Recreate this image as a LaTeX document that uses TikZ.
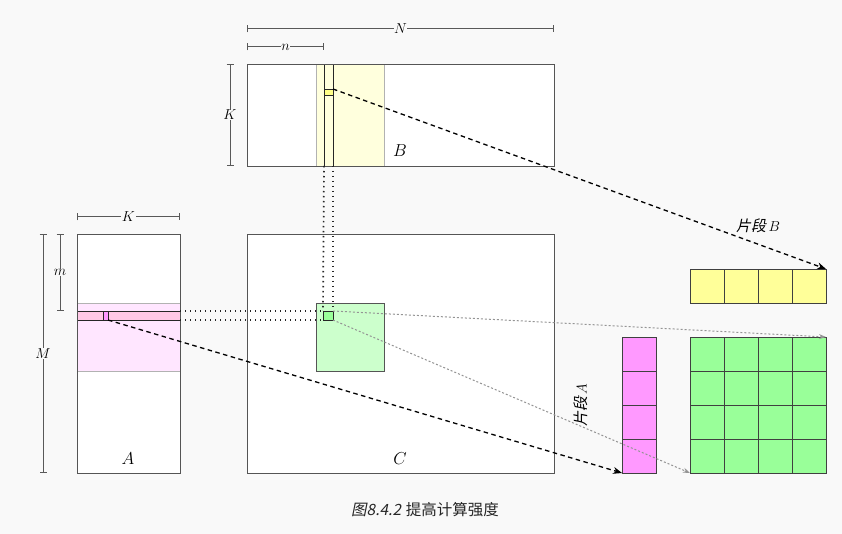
\documentclass[tikz,border=0pt]{standalone}
\usepackage{fontspec}
\newfontfamily\cjk{Noto Sans CJK SC}
\newfontfamily\cjksl[FakeSlant=0.2]{Noto Sans CJK SC}
\usetikzlibrary{arrows.meta}
\definecolor{bgc}{HTML}{F9F9F9}
\definecolor{frame}{HTML}{555555}
\definecolor{yband}{HTML}{FFFFDD}
\definecolor{ycell}{HTML}{FFFF99}
\definecolor{ysq}{HTML}{FFFF88}
\definecolor{pband}{HTML}{FFE6FF}
\definecolor{prow}{HTML}{FFC8E6}
\definecolor{pcell}{HTML}{FF99FF}
\definecolor{gblock}{HTML}{CCFFCC}
\definecolor{gcell}{HTML}{99FF99}
\tikzset{
  mat/.style={draw=frame, fill=white, line width=0.9pt, inner sep=0pt, outer sep=0pt, anchor=north west},
  band/.style={draw=black!30, line width=0.9pt, inner sep=0pt, outer sep=0pt, anchor=north west},
  strip/.style={draw=black!85, line width=0.8pt, inner sep=0pt, outer sep=0pt, anchor=north west},
  cell/.style={draw=black!75, line width=0.8pt, inner sep=0pt, outer sep=0pt, anchor=north west, minimum width=34pt, minimum height=34pt},
  dim/.style={draw=black!65, line width=1pt, {Bar[width=7pt]}-{Bar[width=7pt]}},
  dimlab/.style={fill=bgc, inner sep=0.5pt, font=\fontsize{13.5}{15}\selectfont},
  dotline/.style={line width=1.7pt, dash pattern=on 1.3pt off 3.7pt, black!85},
  bigdash/.style={line width=1.3pt, dash pattern=on 4.5pt off 3.5pt, -{Stealth[length=9pt,width=7pt]}},
  graydot/.style={line width=1pt, draw=black!42, dash pattern=on 2pt off 2pt, -{Stealth[length=7pt,width=5pt]}},
  biglab/.style={font=\fontsize{17}{20}\selectfont}
}
\begin{document}
\begin{tikzpicture}[x=1pt,y=-1pt]
\fill[bgc] (0,0) rectangle (842,534);
\useasboundingbox (0,0) rectangle (842,534);

% matrix B
\node[mat, minimum width=307pt, minimum height=102pt] (B) at (247,64) {};
\node[band, fill=yband, minimum width=68pt, minimum height=102pt] (Bband) at (316,64) {};
\node[strip, fill=yband, minimum width=9pt, minimum height=102pt] (Bcol) at (324,64) {};
\node[strip, fill=ysq, minimum width=9pt, minimum height=6pt] (Bsq) at (324,89) {};
\draw[frame, line width=0.9pt] (B.north west) rectangle (B.south east);
\node[biglab] (Blab) at (400,151) {$B$};

% matrix A
\node[mat, minimum width=103pt, minimum height=239pt] (A) at (77,234) {};
\node[band, fill=pband, minimum width=103pt, minimum height=68pt] (Aband) at (77,303) {};
\node[strip, fill=prow, minimum width=103pt, minimum height=9pt] (Arow) at (77,311) {};
\node[strip, fill=pcell, minimum width=5pt, minimum height=9pt] (Asq) at (103,311) {};
\draw[frame, line width=0.9pt] (A.north west) rectangle (A.south east);
\node[biglab] (Alab) at (128,459) {$A$};

% matrix C
\node[mat, minimum width=307pt, minimum height=239pt] (C) at (247,234) {};
\node[band, draw=frame, fill=gblock, minimum width=68pt, minimum height=68pt] (Cblk) at (316,303) {};
\node[strip, fill=gcell, minimum width=10pt, minimum height=9pt] (Csq) at (323,311) {};
\node[biglab] (Clab) at (400,459) {$C$};

% dimension lines
\coordinate (N1) at (247,29); \coordinate (N2) at (554,29);
\draw[dim] (N1) -- node[dimlab] {$N$} (N2);
\coordinate (n1) at (247,47); \coordinate (n2) at (324,47);
\draw[dim] (n1) -- node[dimlab] {$n$} (n2);
\coordinate (KB1) at (230,64); \coordinate (KB2) at (230,166);
\draw[dim] (KB1) -- node[dimlab] {$K$} (KB2);
\coordinate (KA1) at (77,217); \coordinate (KA2) at (180,217);
\draw[dim] (KA1) -- node[dimlab] {$K$} (KA2);
\coordinate (M1) at (43,234); \coordinate (M2) at (43,473);
\draw[dim] (M1) -- node[dimlab] {$M$} (M2);
\coordinate (m1) at (60,234); \coordinate (m2) at (60,311);
\draw[dim] (m1) -- node[dimlab] {$m$} (m2);

% fragments
\foreach \i in {0,1,2,3}{
  \node[cell, fill=ycell] (Y\i) at ({690+34*\i},269) {};
  \node[cell, fill=pcell] (P\i) at (622,{337+34*\i}) {};
  \foreach \j in {0,1,2,3}{
    \node[cell, fill=gcell] (G\i\j) at ({690+34*\i},{337+34*\j}) {};
  }
}

% dotted projections
\draw[dotline] (Bcol.south west) -- (Csq.north west);
\draw[dotline] (Bcol.south east) -- (Csq.north east);
\draw[dotline] (Arow.north east) -- (Csq.north west);
\draw[dotline] (Arow.south east) -- (Csq.south west);

% arrows
\draw[bigdash] (Bsq.north east) -- (Y3.north east);
\draw[bigdash] (Asq.south east) -- (P3.south west);
\draw[graydot] (Csq.north east) -- (G30.north east);
\draw[graydot] (Csq.south east) -- (G03.south west);

% labels
\node[font=\fontsize{15}{17}\selectfont] (fB) at (758,226) {\cjksl 片段\,$B$};
\node[font=\fontsize{15}{17}\selectfont, rotate=90] (fA) at (581,405) {\cjksl 片段\,$A$};
\node[font=\fontsize{15.5}{18}\selectfont, text=black!85] (cap) at (425,510) {{\cjksl 图8.4.2}\ \cjk 提高计算强度};
\end{tikzpicture}
\end{document}
